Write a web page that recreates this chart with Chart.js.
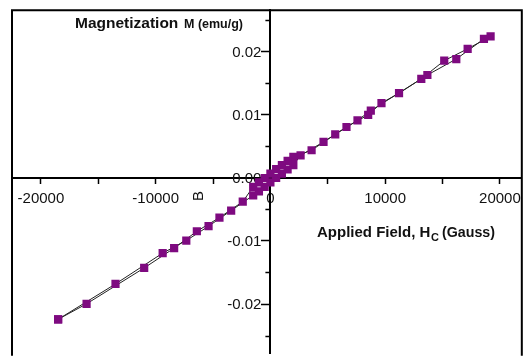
<!DOCTYPE html>
<html><head><meta charset="utf-8">
<script src="https://cdn.jsdelivr.net/npm/chart.js@4/dist/chart.umd.min.js"></script>
<style>html,body{margin:0;padding:0;background:#fff}#wrap{width:528px;height:364px;position:relative}</style>
</head><body><div id="wrap"><canvas id="c" width="528" height="364"></canvas></div>
<script>
// Hysteresis loop: ascending branch then descending branch (Applied field in Gauss, M in emu/g)
const fieldGauss = [
  -18500, -13500, -9390, -7330, -5390, -3420,
  -1500, -1000, -500, 0, 500, 1000, 1500, 2000,
  2630, 4630, 6630, 8520, 9680, 11210, 13150, 15150, 17190, 19190,
  18610, 16200, 13680, 8750, 7590, 5650, 3590,
  2000, 1500, 1000, 500, 0, -500, -1000, -1500,
  -2410, -4440, -6410, -8390, -11000, -16020, -18500
];
const magnetization = [
  -0.02242, -0.01682, -0.01194, -0.00995, -0.00768, -0.00520,
  -0.00280, -0.00215, -0.00145, -0.00075, -0.00005, 0.00065, 0.00130, 0.00200,
  0.00353, 0.00567, 0.00803, 0.00995, 0.01182, 0.01338, 0.01565, 0.01853, 0.02041, 0.02238,
  0.02197, 0.01879, 0.01626, 0.01061, 0.00909, 0.00686, 0.00435,
  0.00330, 0.00265, 0.00200, 0.00135, 0.00065, -0.00005, -0.00075, -0.00145,
  -0.00379, -0.00632, -0.00848, -0.01115, -0.01429, -0.01997, -0.02242
];
const xTickValues = [-20000, -15000, -10000, -5000, 0, 5000, 10000, 15000, 20000];
const yTickValues = [-0.025, -0.02, -0.015, -0.01, -0.005, 0, 0.005, 0.01, 0.015, 0.02, 0.025];
const xRange = [-22520, 21910];
const yRange = [-0.02788, 0.02652];

const FONT = '"Liberation Sans", Arial, Helvetica, sans-serif';
const isMajorY = v => Math.abs(Math.round(v * 100) - v * 100) < 1e-6;

const decor = {
  id: 'decor',
  beforeDatasetsDraw(chart) {
    const {ctx, chartArea: a, scales} = chart;
    ctx.save();
    // frame (left, top, right)
    ctx.strokeStyle = '#000';
    ctx.lineWidth = 2;
    ctx.beginPath();
    ctx.moveTo(a.left, a.bottom + 2);
    ctx.lineTo(a.left, a.top);
    ctx.lineTo(a.right, a.top);
    ctx.lineTo(a.right, a.bottom + 2);
    ctx.stroke();
    // minor y ticks (shorter)
    const y = scales.y, x0 = scales.x.getPixelForValue(0);
    ctx.lineWidth = 1.5;
    ctx.beginPath();
    yTickValues.filter(v => !isMajorY(v)).forEach(v => {
      const p = Math.round(y.getPixelForValue(v)) + 0.5;
      ctx.moveTo(x0 - 1, p);
      ctx.lineTo(x0 - 5, p);
    });
    ctx.stroke();
    // y tick labels, right-aligned left of the tick marks
    ctx.fillStyle = '#111';
    ctx.font = '15px ' + FONT;
    ctx.textAlign = 'right';
    ctx.textBaseline = 'middle';
    yTickValues.filter(isMajorY).forEach(v => {
      ctx.fillText(v.toFixed(2), x0 - 9, y.getPixelForValue(v) + 1);
    });
    ctx.restore();
  },
  afterDraw(chart) {
    const {ctx} = chart;
    ctx.save();
    ctx.fillStyle = '#111';
    ctx.textBaseline = 'alphabetic';
    ctx.textAlign = 'left';
    ctx.font = 'bold 15.5px ' + FONT;
    ctx.fillText('Magnetization', 75, 28, 106);
    ctx.font = 'bold 12.5px ' + FONT;
    ctx.fillText('M (emu/g)', 184, 28, 71);
    ctx.font = 'bold 15px ' + FONT;
    ctx.fillText('Applied Field, H', 317, 237, 124);
    ctx.font = 'bold 11px ' + FONT;
    ctx.fillText('C', 431, 241, 8);
    ctx.font = 'bold 15px ' + FONT;
    ctx.fillText('(Gauss)', 442, 237, 53);
    // rotated B
    ctx.translate(203, 196);
    ctx.rotate(-Math.PI / 2);
    ctx.font = '15px ' + FONT;
    ctx.textAlign = 'center';
    ctx.fillText('B', 0, 0);
    ctx.restore();
  }
};

new Chart(document.getElementById('c'), {
  type: 'scatter',
  data: {
    datasets: [{
      data: fieldGauss.map((h, i) => ({x: h, y: magnetization[i]})),
      showLine: true,
      borderColor: '#222',
      borderWidth: 1,
      tension: 0,
      pointStyle: 'rect',
      pointRadius: 5.8,
      pointHoverRadius: 5.8,
      pointBackgroundColor: '#7e0a80',
      pointBorderColor: '#7e0a80',
      pointBorderWidth: 0
    }]
  },
  options: {
    responsive: false,
    animation: false,
    devicePixelRatio: 1,
    layout: {padding: {left: 12, top: 5, right: 4.5, bottom: 0}},
    plugins: {legend: {display: false}, tooltip: {enabled: false}},
    scales: {
      x: {
        type: 'linear',
        position: {y: 0},
        min: xRange[0], max: xRange[1],
        afterBuildTicks: s => { s.ticks = xTickValues.map(v => ({value: v})); },
        border: {display: true, color: '#000', width: 2},
        grid: {drawOnChartArea: false, drawTicks: true, tickLength: 5, tickColor: '#000', tickWidth: 1.5},
        ticks: {
          autoSkip: false, maxRotation: 0, padding: 7,
          color: '#111', font: {family: FONT, size: 15},
          callback: v => (v % 10000 === 0 ? String(v) : '')
        }
      },
      y: {
        type: 'linear',
        position: {x: 0},
        min: yRange[0], max: yRange[1],
        afterBuildTicks: s => { s.ticks = yTickValues.map(v => ({value: v})); },
        border: {display: true, color: '#000', width: 2},
        grid: {
          drawOnChartArea: false, drawTicks: true, tickLength: 8, tickWidth: 1.5,
          tickColor: c => (c.tick && isMajorY(c.tick.value) ? '#000' : 'rgba(0,0,0,0)')
        },
        ticks: {autoSkip: false, callback: () => ''}
      }
    }
  },
  plugins: [decor]
});
</script>
</body></html>
